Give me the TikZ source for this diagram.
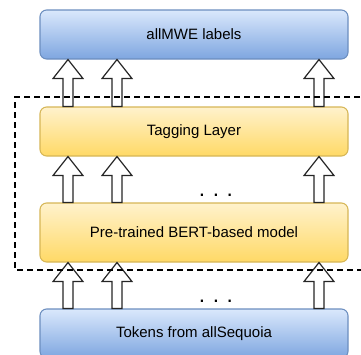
\documentclass[tikz,border=0pt]{standalone}
\usepackage{fontspec}
\setmainfont{Liberation Sans}
\usepackage{tikz}
\usetikzlibrary{positioning, calc}

\definecolor{bluetop}{HTML}{DAE8FC}
\definecolor{bluebot}{HTML}{7EA6E0}
\definecolor{blueline}{HTML}{6C8EBF}
\definecolor{yeltop}{HTML}{FFF2CC}
\definecolor{yelbot}{HTML}{FFD966}
\definecolor{yelline}{HTML}{D6B656}

\begin{document}
\begin{tikzpicture}[
    x=0.75pt, y=-0.75pt,
    layer/.style={rectangle, rounded corners=5pt, minimum width=231pt, draw, line width=0.8pt, font=\fontsize{11.25}{13.5}\selectfont},
    bluelayer/.style={layer, draw=blueline, top color=bluetop, bottom color=bluebot},
    yellayer/.style={layer, draw=yelline, top color=yeltop, bottom color=yelbot},
    blockarrow/.style={draw=black!85, fill=white, line width=0.9pt, line join=miter},
    moredots/.style={font=\fontsize{17}{20}\selectfont, inner sep=0pt},
    boundary/.style={dashed, dash pattern=on 4.5pt off 3pt, line width=1.1pt}
]

\useasboundingbox (0,0) rectangle (361,354);
\clip (0,0) rectangle (361,354);

\node[bluelayer, minimum height=36.75pt] (out) at (194,34.5) {allMWE labels};
\node[yellayer, minimum height=36.75pt] (tag) at (194,131.5) {Tagging Layer};
\node[yellayer, minimum height=44.25pt] (bert) at (194,232.5) {Pre-trained BERT-based model};
\node[bluelayer, minimum height=36.75pt] (tok) at (194,333.5) {Tokens from allSequoia};

% block arrows between the layers
\foreach \src/\dst in {tok/bert, bert/tag, tag/out} {
  \foreach \x in {68,117,319} {
    \coordinate (b) at (\x,0 |- \src.north);
    \coordinate (t) at (\x,0 |- \dst.south);
    \draw[blockarrow] ($(b)+(-5,0)$) -- ($(t)+(-5,19)$) -- ++(-10,0) -- (t)
      -- ++(15,19) -- ++(-10,0) -- ($(b)+(5,0)$) -- cycle;
  }
}

\node[moredots] (dotsa) at (216,195) {.\,\,.\,\,.};
\node[moredots] (dotsb) at (216,301) {.\,\,.\,\,.};

\draw[boundary] (380,97) -- (15,97) -- (15,270) -- (380,270);

\end{tikzpicture}
\end{document}
